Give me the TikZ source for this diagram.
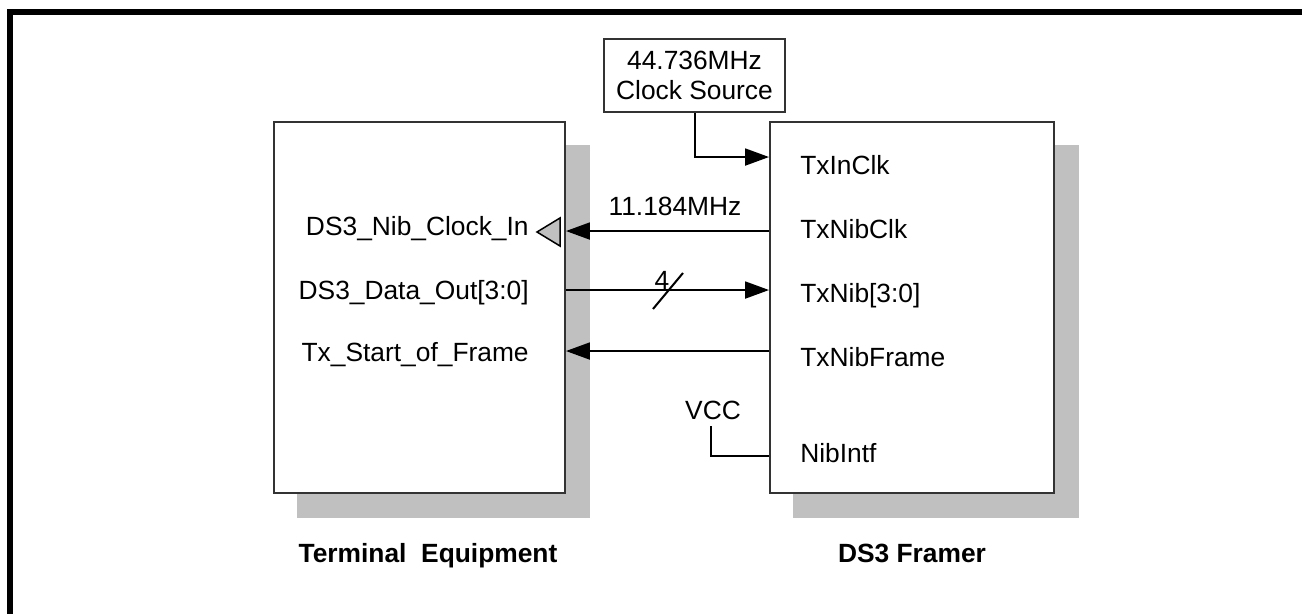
\documentclass[tikz,border=0pt]{standalone}
\usepackage{fontspec}
\setmainfont{Liberation Sans}
\usepackage{tikz}
\usetikzlibrary{positioning, arrows.meta, calc, backgrounds}
\usepackage{xcolor}
\definecolor{shadowgray}{RGB}{192,192,192}
\tikzset{
    unit/.style={
        rectangle, draw=black!80, line width=0.04cm,
        fill=white, inner sep=0pt
    },
    sig/.style={
        -{Triangle[length=0.48cm, width=0.34cm]}, line width=0.04cm
    },
    wire/.style={
        line width=0.04cm
    },
    pinlabel/.style={
        inner sep=0pt
    },
    title/.style={
        inner sep=0pt, font=\fontsize{15}{17}\selectfont\bfseries
    }
}

\begin{document}
\begin{tikzpicture}[
    x=0.02cm, y=-0.02cm,
    every node/.style={font=\fontsize{15}{17}\selectfont}
]
\useasboundingbox (0,0) rectangle (1302,614);
\draw[line width=0.12cm] (10,12) rectangle (1305,640);

\node[unit, minimum width=5.82cm, minimum height=7.42cm] (te) at (419.5,307.5) {};
\node[unit, minimum width=5.68cm, minimum height=7.42cm] (fr) at (912,307.5) {};
\node[unit, minimum width=3.62cm, minimum height=1.46cm, align=center] (clk) at (694.5,75.5) {44.736MHz\\Clock Source};

\begin{scope}[on background layer]
\fill[shadowgray] ($(te.south west)+(24,24)$) rectangle ($(te.north east)+(24,24)$);
\fill[shadowgray] ($(fr.south west)+(24,24)$) rectangle ($(fr.north east)+(24,24)$);
\end{scope}

\node[pinlabel, anchor=base east] (nibclkin) at (529,235.5) {DS3\_Nib\_Clock\_In};
\node[pinlabel, anchor=base east] (dataout) at (529,299.5) {DS3\_Data\_Out[3:0]};
\node[pinlabel, anchor=base east] (startframe) at (529,361.5) {Tx\_Start\_of\_Frame};

\node[pinlabel, anchor=base west] (txinclk) at (800,174.5) {TxInClk};
\node[pinlabel, anchor=base west] (txnibclk) at (800,238.5) {TxNibClk};
\node[pinlabel, anchor=base west] (txnib) at (800,302.5) {TxNib[3:0]};
\node[pinlabel, anchor=base west] (txnibframe) at (800,366.5) {TxNibFrame};
\node[pinlabel, anchor=base west] (nibintf) at (800,462.5) {NibIntf};

\coordinate (inclkpin) at ($(fr.north west)+(0,36)$);
\coordinate (nibclkpin) at ($(fr.north west)+(0,110)$);
\coordinate (nibpin) at ($(fr.north west)+(0,169)$);
\coordinate (framepin) at ($(fr.north west)+(0,230)$);
\coordinate (intfpin) at ($(fr.north west)+(0,335)$);

\node[pinlabel, anchor=base] (vcc) at (713,419.5) {VCC};
\node[pinlabel, anchor=base] (nibrate) at (675,215.5) {11.184MHz};
\node[pinlabel, anchor=base] (buswidth) at (662,289.5) {4};
\coordinate (busmid) at (668,291);

\draw[sig] (clk.south) |- (inclkpin);
\draw[sig] (nibclkpin) -- (te.east |- nibclkpin);
\draw[sig] (te.east |- nibpin) -- (nibpin);
\draw[sig] (framepin) -- (te.east |- framepin);
\draw[wire] ($(vcc.south)+(-2,6)$) |- (intfpin);
\draw[wire] ($(busmid)+(-15,18)$) -- ($(busmid)+(15,-18)$);

\draw[fill=shadowgray, line width=0.03cm] (560,218) -- (537,232) -- (560,246) -- cycle;

\node[title, anchor=base] (tetitle) at (428,562.5) {Terminal\ \ Equipment};
\node[title, anchor=base] (frtitle) at (912,562.5) {DS3 Framer};

\end{tikzpicture}
\end{document}
